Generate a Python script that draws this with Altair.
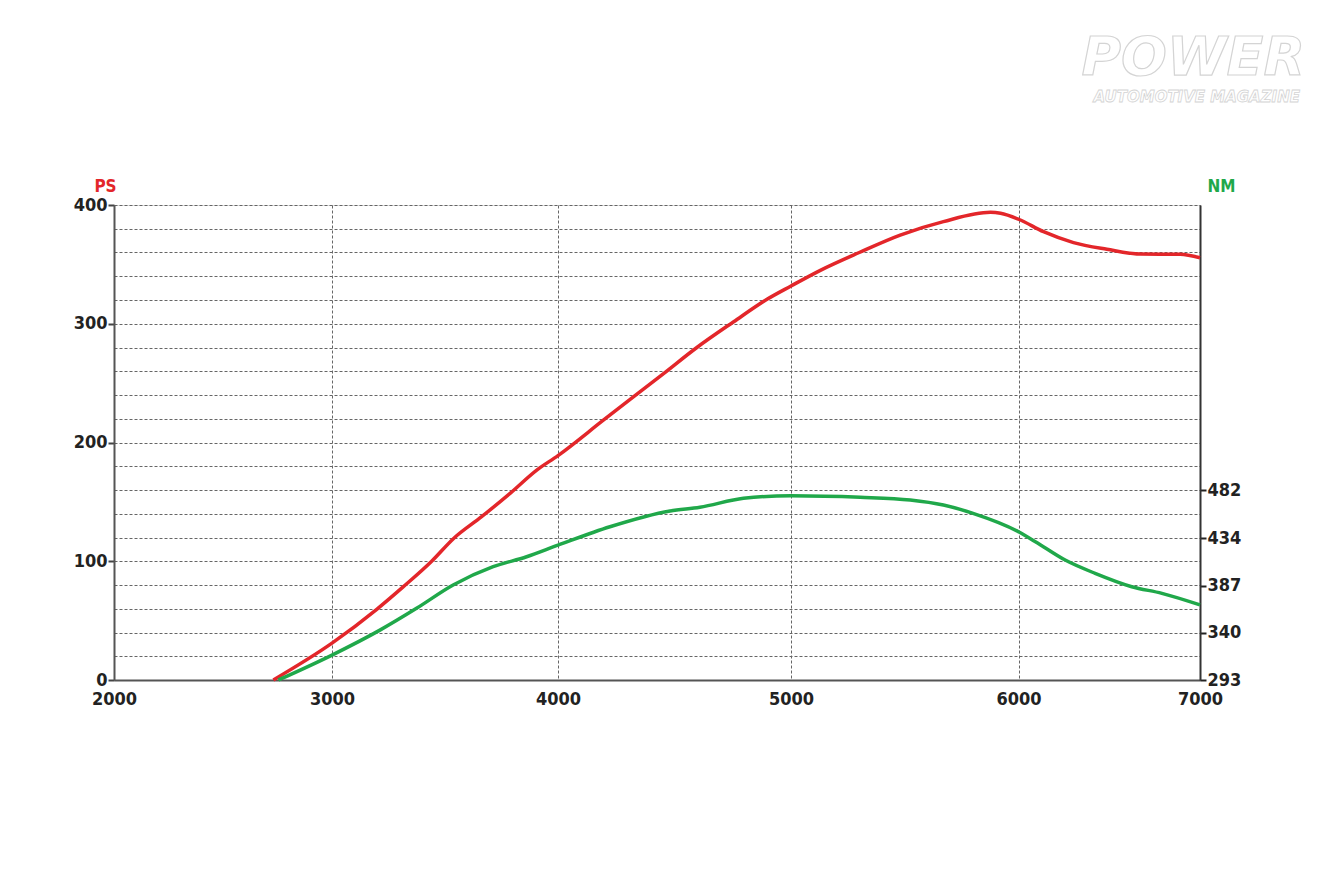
import altair as alt
import pandas as pd

# ---- data ----
rpm_ps = [2731, 3000, 3198, 3316, 3441, 3537, 3662, 3788, 3906, 4000, 4196, 4453,
          4596, 4754, 4897, 5000, 5129, 5300, 5480, 5670, 5877, 5921, 6000, 6138,
          6303, 6487, 6670, 6890, 7000]
ps_values = [0, 31, 59.5, 78.6, 100, 119, 137.5, 157.2, 176.8, 189, 219, 258,
             280, 301.7, 320.6, 331.8, 345, 360, 374.7, 386, 393.8, 393, 388, 377.5,
             368.3, 362.7, 358.7, 358.5, 355.6]

rpm_nm = [2754, 3000, 3212, 3374, 3536, 3713, 3861, 4000, 4223, 4481, 4609, 4796,
          5000, 5304, 5524, 5670, 5800, 6000, 6093, 6257, 6422, 6624, 6790, 7000]
nm_values = [293, 317.8, 342.6, 364.3, 387.5, 405.7, 415.6, 427.1, 445.4, 461.1, 464.8, 473.7,
             476.3, 474.8, 472.1, 467.1, 458.8, 440.5, 430.6, 412.3, 399.1, 385.8, 379.2, 367.7]

x_ticks = [2000, 3000, 4000, 5000, 6000, 7000]
ps_grid = list(range(0, 401, 20))
nm_ticks = [293, 340, 387, 434, 482]

RED = "#e3262a"
GREEN = "#20a84a"
FONT = "DejaVu Sans Condensed"
LABEL_SIZE = 18

ps_df = pd.DataFrame({"rpm": rpm_ps, "ps": ps_values})
nm_df = pd.DataFrame({"rpm": rpm_nm, "nm": nm_values})

x_scale = alt.Scale(domain=x_ticks, range=[0, 218, 444, 677, 904.5, 1086], nice=False, zero=False)
x_axis = alt.Axis(values=x_ticks, format="d", title=None, grid=True, gridDash=[3, 2], gridColor="#666",
                  gridWidth=1, ticks=False, domainColor="#555", domainWidth=2,
                  labelFont=FONT, labelFontSize=LABEL_SIZE, labelFontWeight="bold", labelColor="#222",
                  labelPadding=10, labelBaseline="top", labelFlush=False, labelOverlap=False)

ps_line = alt.Chart(ps_df).mark_line(color=RED, strokeWidth=3.5, interpolate="monotone").encode(
    x=alt.X("rpm:Q", scale=x_scale, axis=x_axis),
    y=alt.Y("ps:Q", scale=alt.Scale(domain=[0, 400], nice=False),
            axis=alt.Axis(values=ps_grid, grid=True, gridDash=[3, 2], gridColor="#666", gridWidth=1,
                          tickSize=6, tickWidth=2,
                          tickColor={"condition": {"test": "datum.value % 100 === 0", "value": "#444"},
                                     "value": "transparent"},
                          labelExpr="datum.value % 100 === 0 ? datum.label : ''",
                          labelFont=FONT, labelFontSize=LABEL_SIZE, labelFontWeight="bold", labelColor="#222",
                          labelPadding=1, labelOverlap=False,
                          domainColor="#555", domainWidth=2,
                          title="PS", titleColor=RED, titleFont=FONT, titleFontSize=17,
                          titleFontWeight="bold", titleAngle=0, titleAlign="center",
                          titleBaseline="alphabetic", titleX=-9, titleY=-14)),
)

nm_line = alt.Chart(nm_df).mark_line(color=GREEN, strokeWidth=3.5, interpolate="monotone").encode(
    x=alt.X("rpm:Q", scale=x_scale, axis=x_axis),
    y=alt.Y("nm:Q", scale=alt.Scale(domain=[293, 765.5], nice=False, zero=False),
            axis=alt.Axis(orient="right", values=nm_ticks, grid=False, tickSize=6, tickWidth=2,
                          tickColor="#222", domainColor="#333", domainWidth=2,
                          labelFont=FONT, labelFontSize=LABEL_SIZE, labelFontWeight="bold", labelColor="#222",
                          labelPadding=1, labelOverlap=False,
                          title="NM", titleColor=GREEN, titleFont=FONT, titleFontSize=17,
                          titleFontWeight="bold", titleAngle=0, titleAlign="center",
                          titleBaseline="alphabetic", titleX=21, titleY=-14)),
)

logo_df = pd.DataFrame({"t": ["POWER"]})
logo_big = alt.Chart(logo_df).mark_text(
    font="DejaVu Sans", fontSize=54, fontWeight="bold", fontStyle="italic",
    align="right", baseline="alphabetic", fill="white", stroke="#d4d4d4", strokeWidth=1.2
).encode(text="t:N", x=alt.value(1191), y=alt.value(-130))

logo_small_df = pd.DataFrame({"t": ["AUTOMOTIVE MAGAZINE"]})
logo_small = alt.Chart(logo_small_df).mark_text(
    font="DejaVu Sans", fontSize=15, fontWeight="bold", fontStyle="italic",
    align="right", baseline="alphabetic", fill="white", stroke="#d4d4d4", strokeWidth=0.8
).encode(text="t:N", x=alt.value(1186), y=alt.value(-103))

chart = alt.layer(ps_line, nm_line, logo_big, logo_small).resolve_scale(y="independent").properties(
    width=1086, height=475,
    autosize=alt.AutoSizeParams(type="none"),
    padding={"left": 106, "top": 197, "right": 120, "bottom": 100},
).configure_view(stroke=None).configure(background="white")

chart.save("out.html", embed_options={"renderer": "svg", "actions": False})
